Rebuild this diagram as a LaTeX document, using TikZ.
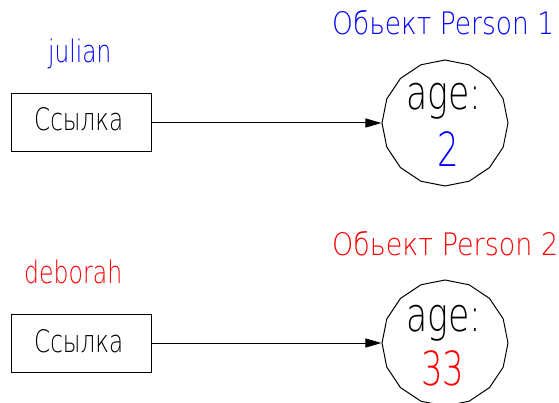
\documentclass[tikz,border=0pt]{standalone}
\usepackage{fontspec}
\usepackage{graphicx}
\usetikzlibrary{arrows.meta,shapes.geometric}
\newfontfamily\cadfont{DejaVu Sans ExtraLight}
\definecolor{cadblue}{RGB}{0,0,255}
\definecolor{cadred}{RGB}{255,0,0}
% squeeze a text to a given width, keeping its height
\newcommand\fitto[2]{\resizebox{#1}{\height}{#2}}

\begin{document}
\begin{tikzpicture}[x=1pt,y=-1pt,
  txt/.style={inner sep=0pt, anchor=base west, font=\cadfont\fontsize{31}{31}\selectfont},
  agetxt/.style={inner sep=0pt, anchor=base west, font=\cadfont\fontsize{47}{47}\selectfont},
  valtxt/.style={inner sep=0pt, anchor=base, font=\cadfont\fontsize{47}{47}\selectfont},
  refbox/.style={draw, line width=1pt, minimum width=140pt, minimum height=58pt, inner sep=0pt},
  obj/.style={draw, line width=1pt, regular polygon, regular polygon sides=16,
    regular polygon rotate=11.25, minimum size=126pt, inner sep=0pt},
  link/.style={line width=1pt, -{Triangle[length=16pt,width=9pt]}}]
\useasboundingbox (0,0) rectangle (559,403);

% first reference and its object
\node[refbox] (refA) at (81,123) {};
\node[txt] (refAtext) at (34,131) {\fitto{89pt}{Ссылка}};
\node[txt,text=cadblue] (nameA) at (48,63) {\fitto{63pt}{julian}};
\node[obj] (objA) at (445,123) {};
\node[txt,text=cadblue] (titleA) at (332,35) {\fitto{222pt}{Обьект Person 1}};
\node[agetxt] (ageA) at (406,110) {\fitto{75pt}{age:}};
\node[valtxt,text=cadblue] (valA) at (448,167) {\scalebox{0.72}[1]{2}};
\draw[link] (refA.east) -- (objA.west);

% second reference and its object
\node[refbox] (refB) at (81,343) {};
\node[txt] (refBtext) at (34,352) {\fitto{89pt}{Ссылка}};
\node[txt,text=cadred] (nameB) at (24,283) {\fitto{98pt}{deborah}};
\node[obj] (objB) at (445,343) {};
\node[txt,text=cadred] (titleB) at (332,256) {\fitto{226pt}{Обьект Person 2}};
\node[agetxt] (ageB) at (406,331) {\fitto{75pt}{age:}};
\node[valtxt,text=cadred] (valB) at (443,385) {\scalebox{0.72}[1]{33}};
\draw[link] (refB.east) -- (objB.west);
\end{tikzpicture}
\end{document}
